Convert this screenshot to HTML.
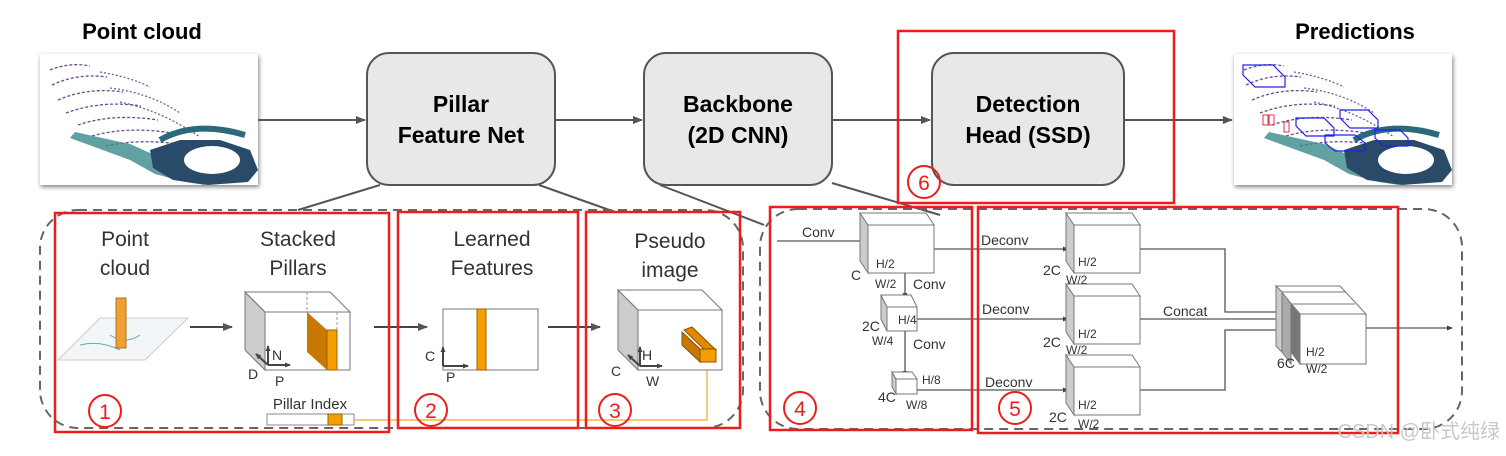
<!DOCTYPE html>
<html><head><meta charset="utf-8"><style>
html,body{margin:0;padding:0;background:#fff;}
svg{display:block;}
text{font-family:"Liberation Sans",Arial,sans-serif;}
</style></head><body>
<svg width="1506" height="456" viewBox="0 0 1506 456" xmlns="http://www.w3.org/2000/svg">
<defs>
<marker id="ah" markerWidth="10" markerHeight="8" refX="9" refY="4" orient="auto" markerUnits="userSpaceOnUse"><path d="M0,0 L10,4 L0,8 z" fill="#555"/></marker>
<marker id="as" markerWidth="6" markerHeight="5" refX="5" refY="2.5" orient="auto" markerUnits="userSpaceOnUse"><path d="M0,0 L6,2.5 L0,5 z" fill="#444"/></marker>
<filter id="sh" x="-5%" y="-5%" width="115%" height="115%"><feDropShadow dx="1" dy="2" stdDeviation="2" flood-color="#000" flood-opacity="0.5"/></filter>
<g id="pc">
<g fill="none" stroke-width="1.3">
<path d="M50,70 q20,-8 40,-4 M52,85 q25,-12 55,-8 M58,100 q30,-13 65,-8 M66,113 q35,-13 75,-7 M78,125 q35,-12 80,-5 M92,136 q35,-10 80,-3 M106,146 q35,-8 80,-1" stroke="#6a4c8c" stroke-dasharray="3,2"/>
<path d="M100,72 q30,5 50,15 M110,88 q40,5 70,25 M120,102 q40,8 80,35" stroke="#5a6aa0" stroke-dasharray="2,2"/>
</g>
<path d="M70,138 l60,22 l25,14 l30,8 l20,3 v-8 l-35,-15 l-40,-18 l-55,-12 z" fill="#3a8a8a" opacity="0.8"/>
<path d="M150,150 l30,-10 l40,0 l30,10 l8,20 l-10,12 l-40,3 l-35,-5 l-20,-12 z" fill="#2a4a6a"/>
<ellipse cx="212" cy="160" rx="28" ry="14" fill="#fff"/>
<path d="M160,140 q35,-20 85,-5" stroke="#2a6a7a" stroke-width="6" fill="none"/>
</g>
</defs>

<!-- Titles -->
<text x="142" y="39" font-size="22" font-weight="bold" text-anchor="middle" fill="#000">Point cloud</text>
<text x="1355" y="39" font-size="22" font-weight="bold" text-anchor="middle" fill="#000">Predictions</text>

<!-- point cloud image -->
<g filter="url(#sh)"><rect x="40" y="54" width="218" height="131" fill="#fff"/></g>
<use href="#pc"/>

<!-- predictions image -->
<g filter="url(#sh)"><rect x="1234" y="54" width="218" height="131" fill="#fff"/></g>
<use href="#pc" transform="translate(1194,0)"/>
<g fill="none" stroke="#2222ee" stroke-width="1.2">
<path d="M1243,65 h30 l12,12 v10 h-30 l-12,-12 z M1243,65 v10"/>
<path d="M1296,118 h28 l10,10 v8 h-28 l-10,-10 z"/>
<path d="M1340,110 h28 l10,10 v8 h-28 l-10,-10 z"/>
<path d="M1325,135 h30 l10,8 v8 h-30 l-10,-8 z"/>
<path d="M1375,130 h25 l8,8 v8 h-25 l-8,-8 z"/>
</g>
<g fill="none" stroke="#e03050" stroke-width="1"><rect x="1263" y="115" width="5" height="10"/><rect x="1269" y="115" width="5" height="10"/><rect x="1284" y="122" width="5" height="10"/></g>

<!-- main arrows -->
<g stroke="#555" stroke-width="2" fill="none">
<line x1="258" y1="120" x2="365" y2="120" marker-end="url(#ah)"/>
<line x1="555" y1="120" x2="642" y2="120" marker-end="url(#ah)"/>
<line x1="832" y1="120" x2="930" y2="120" marker-end="url(#ah)"/>
<line x1="1124" y1="120" x2="1232" y2="120" marker-end="url(#ah)"/>
</g>

<!-- main boxes -->
<g fill="#e8e8e8" stroke="#555" stroke-width="2">
<rect x="367" y="53" width="188" height="132" rx="22"/>
<rect x="644" y="53" width="188" height="132" rx="22"/>
<rect x="932" y="53" width="192" height="132" rx="22"/>
</g>
<g font-size="23" font-weight="bold" text-anchor="middle" fill="#000">
<text x="461" y="112">Pillar</text><text x="461" y="143">Feature Net</text>
<text x="738" y="112">Backbone</text><text x="738" y="143">(2D CNN)</text>
<text x="1028" y="112">Detection</text><text x="1028" y="143">Head (SSD)</text>
</g>

<!-- connector lines -->
<g stroke="#555" stroke-width="2" fill="none">
<line x1="380" y1="185" x2="298" y2="210"/>
<line x1="539" y1="185" x2="615" y2="212"/>
<line x1="660" y1="185" x2="764" y2="225"/>
<line x1="832" y1="183" x2="940" y2="215"/>
</g>

<!-- dashed regions -->
<g fill="none" stroke="#666" stroke-width="2" stroke-dasharray="9,6">
<rect x="40" y="210" width="703" height="218" rx="38"/>
<rect x="760" y="209" width="702" height="220" rx="38"/>
</g>

<!-- Section 1 -->
<g font-size="21" fill="#333" text-anchor="middle">
<text x="125" y="246">Point</text><text x="125" y="275">cloud</text>
<text x="298" y="246">Stacked</text><text x="298" y="275">Pillars</text>
<text x="492" y="246">Learned</text><text x="492" y="275">Features</text>
<text x="670" y="248">Pseudo</text><text x="670" y="277">image</text>
</g>
<polygon points="100,318 188,318 145,360 58,360" fill="#f2f6f8" stroke="#ccc"/>
<path d="M80,345 q20,-5 40,5 M110,335 q15,10 30,0" stroke="#6aa" fill="none" stroke-width="1"/>
<rect x="116" y="298" width="10" height="50" fill="#f0a030" stroke="#b07020"/>
<line x1="190" y1="327" x2="232" y2="327" stroke="#444" stroke-width="2" marker-end="url(#ah)"/>
<polygon points="245,292 265,312 265,370 245,350" fill="#ccc" stroke="#777"/>
<polygon points="245,292 330,292 350,312 265,312" fill="#fff" stroke="#777"/>
<rect x="265" y="312" width="85" height="58" fill="#fff" stroke="#777"/>
<polygon points="307,312 327,330 327,370 307,352" fill="#c87800"/>
<rect x="327" y="330" width="10" height="40" fill="#f59e00" stroke="#a06000"/>
<line x1="307" y1="292" x2="307" y2="312" stroke="#999" stroke-dasharray="3,2"/>
<line x1="337" y1="312" x2="337" y2="330" stroke="#999" stroke-dasharray="3,2"/>
<g stroke="#444" stroke-width="2" fill="none">
<line x1="268" y1="365" x2="268" y2="346" marker-end="url(#as)"/>
<line x1="268" y1="365" x2="290" y2="365" marker-end="url(#as)"/>
<line x1="268" y1="365" x2="256" y2="354" marker-end="url(#as)"/>
</g>
<g font-size="14" fill="#333"><text x="272" y="360">N</text><text x="248" y="379">D</text><text x="275" y="386">P</text></g>
<text x="310" y="409" font-size="15" fill="#333" text-anchor="middle">Pillar Index</text>
<rect x="267" y="414" width="87" height="11" fill="#fff" stroke="#888"/>
<rect x="328" y="414" width="14" height="11" fill="#f59e00" stroke="#a06000"/>
<polyline points="354,420 707,420 707,362" fill="none" stroke="#f5a623" stroke-width="1.2"/>
<line x1="374" y1="327" x2="427" y2="327" stroke="#444" stroke-width="2" marker-end="url(#ah)"/>
<rect x="443" y="309" width="95" height="61" fill="#fff" stroke="#777"/>
<rect x="477" y="309" width="9" height="61" fill="#f59e00" stroke="#a06000"/>
<g stroke="#444" stroke-width="2" fill="none">
<line x1="443" y1="366" x2="443" y2="347" marker-end="url(#as)"/>
<line x1="443" y1="366" x2="468" y2="366" marker-end="url(#as)"/>
</g>
<g font-size="14" fill="#333"><text x="425" y="361">C</text><text x="446" y="382">P</text></g>
<line x1="548" y1="327" x2="600" y2="327" stroke="#444" stroke-width="2" marker-end="url(#ah)"/>
<polygon points="618,290 638,310 638,370 618,350" fill="#ccc" stroke="#777"/>
<polygon points="618,290 702,290 722,310 638,310" fill="#fff" stroke="#777"/>
<rect x="638" y="310" width="84" height="60" fill="#fff" stroke="#777"/>
<polygon points="684,330 692,327 716,350 708,353" fill="#e08a00" stroke="#8a5000"/>
<rect x="700" y="349" width="16" height="13" fill="#f59e00" stroke="#8a5000"/>
<polygon points="682,332 700,349 700,362 682,345" fill="#c87800" stroke="#8a5000"/>
<g stroke="#444" stroke-width="2" fill="none">
<line x1="640" y1="366" x2="640" y2="347" marker-end="url(#as)"/>
<line x1="640" y1="366" x2="662" y2="366" marker-end="url(#as)"/>
<line x1="640" y1="366" x2="628" y2="355" marker-end="url(#as)"/>
</g>
<g font-size="14" fill="#333"><text x="642" y="360">H</text><text x="611" y="376">C</text><text x="646" y="386">W</text></g>

<!-- Backbone section -->
<g font-size="14" fill="#333">
<text x="802" y="237">Conv</text>
<text x="913" y="289">Conv</text>
<text x="913" y="349">Conv</text>
<text x="981" y="245">Deconv</text>
<text x="982" y="314">Deconv</text>
<text x="985" y="387">Deconv</text>
<text x="1163" y="316">Concat</text>
</g>
<g stroke="#555" stroke-width="1.3" fill="none">
<line x1="777" y1="241" x2="866" y2="241" marker-end="url(#as)"/>
<line x1="905" y1="273" x2="905" y2="298" marker-end="url(#as)"/>
<line x1="905" y1="331" x2="905" y2="376" marker-end="url(#as)"/>
<line x1="934" y1="249" x2="1068" y2="249" marker-end="url(#as)"/>
<line x1="917" y1="319" x2="1068" y2="319" marker-end="url(#as)"/>
<line x1="917" y1="390" x2="1068" y2="390" marker-end="url(#as)"/>
<polyline points="1140,249 1225,249 1225,312 1285,312" marker-end="url(#as)"/>
<line x1="1140" y1="319" x2="1285" y2="319" marker-end="url(#as)"/>
<polyline points="1140,390 1225,390 1225,330 1285,330" marker-end="url(#as)"/>
<line x1="1366" y1="328" x2="1452" y2="328" marker-end="url(#as)"/>
</g>
<g stroke="#777" stroke-width="1">
<polygon points="860,213 868,225 868,273 860,261" fill="#ccc"/>
<polygon points="860,213 926,213 934,225 868,225" fill="#fff"/>
<rect x="868" y="225" width="66" height="48" fill="#fff"/>
<polygon points="881,295 887,307 887,331 881,319" fill="#ccc"/>
<polygon points="881,295 911,295 917,307 887,307" fill="#fff"/>
<rect x="887" y="307" width="30" height="24" fill="#fff"/>
<polygon points="892,372 896,379 896,394 892,387" fill="#ccc"/>
<polygon points="892,372 912,372 917,379 896,379" fill="#fff"/>
<rect x="896" y="379" width="21" height="15" fill="#fff"/>
<g>
<polygon points="1066,213 1074,225 1074,273 1066,261" fill="#ccc"/>
<polygon points="1066,213 1132,213 1140,225 1074,225" fill="#fff"/>
<rect x="1074" y="225" width="66" height="48" fill="#fff"/>
</g>
<g transform="translate(0,71)">
<polygon points="1066,213 1074,225 1074,273 1066,261" fill="#ccc"/>
<polygon points="1066,213 1132,213 1140,225 1074,225" fill="#fff"/>
<rect x="1074" y="225" width="66" height="48" fill="#fff"/>
</g>
<g transform="translate(0,142)">
<polygon points="1066,213 1074,225 1074,273 1066,261" fill="#ccc"/>
<polygon points="1066,213 1132,213 1140,225 1074,225" fill="#fff"/>
<rect x="1074" y="225" width="66" height="48" fill="#fff"/>
</g>
<polygon points="1276,286 1340,286 1366,314 1300,314" fill="#fff"/>
<polygon points="1276,286 1282,292 1282,352 1276,346" fill="#ccc"/>
<polygon points="1282,292 1291,304 1291,364 1282,352" fill="#aaa"/>
<polygon points="1291,304 1300,314 1300,364 1291,352" fill="#777"/>
<line x1="1282" y1="292" x2="1346" y2="292"/>
<line x1="1291" y1="304" x2="1355" y2="304"/>
<rect x="1300" y="314" width="66" height="50" fill="#fff"/>
</g>
<g font-size="12" fill="#333">
<text x="876" y="268">H/2</text><text x="851" y="280" font-size="14">C</text><text x="875" y="288">W/2</text>
<text x="898" y="324">H/4</text><text x="862" y="331" font-size="14">2C</text><text x="872" y="345">W/4</text>
<text x="922" y="384">H/8</text><text x="878" y="402" font-size="14">4C</text><text x="906" y="409">W/8</text>
<text x="1078" y="266">H/2</text><text x="1043" y="275" font-size="14">2C</text><text x="1066" y="284">W/2</text>
<text x="1078" y="338">H/2</text><text x="1043" y="347" font-size="14">2C</text><text x="1066" y="354">W/2</text>
<text x="1078" y="409">H/2</text><text x="1049" y="422" font-size="14">2C</text><text x="1078" y="428">W/2</text>
<text x="1306" y="356">H/2</text><text x="1277" y="368" font-size="14">6C</text><text x="1306" y="373">W/2</text>
</g>

<!-- red boxes -->
<g fill="none" stroke="#ee1c1c" stroke-width="2.5">
<rect x="55" y="213" width="334" height="219"/>
<rect x="398" y="212" width="180" height="216"/>
<rect x="586" y="212" width="154" height="216"/>
<rect x="770" y="207" width="202" height="223"/>
<rect x="978" y="207" width="420" height="226"/>
<rect x="898" y="31" width="276" height="172"/>
</g>
<g fill="none" stroke="#ee1c1c" stroke-width="2">
<circle cx="105" cy="411" r="16"/><circle cx="431" cy="410" r="16"/><circle cx="615" cy="410" r="16"/>
<circle cx="800" cy="408" r="16"/><circle cx="1015" cy="408" r="16"/><circle cx="924" cy="182" r="16"/>
</g>
<g font-size="21" fill="#ee1c1c" text-anchor="middle">
<text x="105" y="419">1</text><text x="431" y="418">2</text><text x="615" y="418">3</text>
<text x="800" y="416">4</text><text x="1015" y="416">5</text><text x="924" y="190">6</text>
</g>
<text x="1500" y="438" font-size="20" fill="#c8c8c8" text-anchor="end" font-family="Liberation Sans, Noto Sans CJK SC, sans-serif">CSDN @卧式纯绿</text>
</svg>
</body></html>
